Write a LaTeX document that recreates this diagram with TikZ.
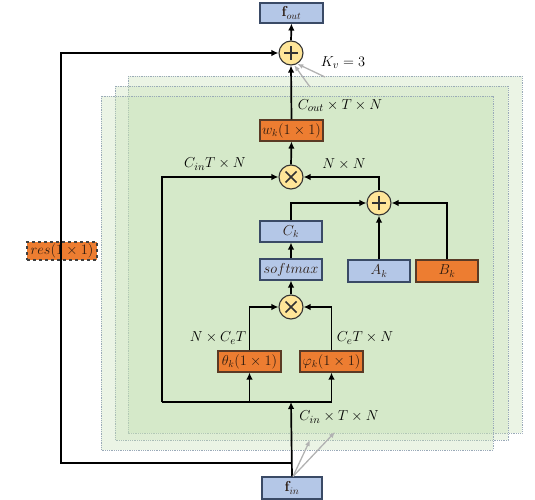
\documentclass[tikz,border=0pt]{standalone}
\usetikzlibrary{arrows.meta,calc}
\definecolor{orangefill}{HTML}{ED7D31}
\definecolor{orangeedge}{HTML}{5A3A25}
\definecolor{bluefill}{HTML}{B4C7E7}
\definecolor{blueedge}{HTML}{3A4A66}
\definecolor{yellowfill}{HTML}{FFE699}
\definecolor{greenfill}{HTML}{C5E0B4}
\definecolor{dotedge}{HTML}{9AAAB8}
\definecolor{boxtext}{HTML}{2A1A10}
\tikzset{
  box/.style={draw, line width=1.1pt, inner sep=0pt, minimum width=62pt, minimum height=21pt, font=\fontsize{14}{16}\selectfont, text=boxtext},
  obox/.style={box, fill=orangefill, draw=orangeedge},
  bbox/.style={box, fill=bluefill, draw=blueedge},
  opcirc/.style={circle, draw=black!80, line width=1.1pt, fill=yellowfill, minimum size=24pt, inner sep=0pt},
  plusop/.style={opcirc, path picture={
    \draw[line width=1.6pt] ([xshift=-7pt]path picture bounding box.center) -- ([xshift=7pt]path picture bounding box.center);
    \draw[line width=1.6pt] ([yshift=-7pt]path picture bounding box.center) -- ([yshift=7pt]path picture bounding box.center);}},
  timesop/.style={opcirc, path picture={
    \draw[line width=1.6pt] ([shift={(-5.5pt,-5.5pt)}]path picture bounding box.center) -- ([shift={(5.5pt,5.5pt)}]path picture bounding box.center);
    \draw[line width=1.6pt] ([shift={(-5.5pt,5.5pt)}]path picture bounding box.center) -- ([shift={(5.5pt,-5.5pt)}]path picture bounding box.center);}},
  conn/.style={line width=1.7pt, draw=black},
  arr/.style={conn, -{Latex[length=7pt,width=6.5pt]}},
  lbl/.style={font=\fontsize{15.5}{18}\selectfont, inner sep=1pt},
  layer/.style={fill=greenfill, fill opacity=0.35, draw=dotedge, densely dotted, line width=0.8pt},
  grayarr/.style={draw=black!30, line width=1.3pt, -{Latex[length=6pt,width=5pt]}},
}
\begin{document}
\begin{tikzpicture}[x=1pt,y=-1pt]
\useasboundingbox (0,0) rectangle (535,500);
% stacked layers
\path[layer] (128,76) rectangle (522,433);
\path[layer] (115,86) rectangle (508,440);
\path[layer] (101,96) rectangle (493,450);

% nodes
\node[bbox, minimum width=63pt, minimum height=20pt] (fout) at (291.5,13) {$\mathbf{f}_{out}$};
\node[plusop] (plus1) at (291,53) {};
\node[lbl] (kv) at (343,63) {$K_v = 3$};
\node[obox, minimum width=63pt] (wk) at (291.5,130.5) {$w_k(1\times1)$};
\node[lbl] (coutl) at (340,106) {$C_{out}\times T\times N$};
\node[timesop] (mul1) at (291,177) {};
\node[lbl] (cintl) at (215,164) {$C_{in}T\times N$};
\node[lbl] (nnl) at (344,164) {$N\times N$};
\node[plusop] (plus2) at (379,203) {};
\node[bbox] (ck) at (291,231.5) {$C_k$};
\node[bbox] (sm) at (291,269.5) {$softmax$};
\node[bbox, minimum height=22pt] (ak) at (379,271) {$A_k$};
\node[obox, minimum height=22pt] (bk) at (447,271) {$B_k$};
\node[timesop] (mul2) at (291,307) {};
\node[obox, minimum width=63pt] (theta) at (249.5,361.5) {$\theta_k(1\times1)$};
\node[obox, minimum width=63pt] (phi) at (331.5,361.5) {$\varphi_k(1\times1)$};
\node[lbl] (ncl) at (218,338) {$N\times C_eT$};
\node[lbl] (cnl) at (365,338) {$C_eT\times N$};
\node[lbl] (cinl) at (339,417) {$C_{in}\times T\times N$};
\node[bbox, minimum width=60pt, minimum height=22pt] (fin) at (292,488) {$\mathbf{f}_{in}$};
\node[obox, dashed, draw=black!75, minimum width=70pt, minimum height=18pt] (res) at (62,251) {$res(1\times1)$};

% coordinates
\coordinate (j) at (291,402);
\coordinate (jl) at (162,402);
\coordinate (jt) at (249.5,402);
\coordinate (jr) at (331.5,402);
\coordinate (rb) at (291,463);
\coordinate (rbl) at (61,463);
\coordinate (rtl) at (61,53);
\coordinate (g1) at (325,77);
\coordinate (g2) at (310,87);
\coordinate (g3) at (310,440);
\coordinate (g4) at (335,432);

% connectors
\draw[arr] (fin.north) -- (j);
\draw[conn] (jl) -- (jr);
\draw[arr] (jl) |- (mul1.west);
\draw[arr] (jt) -- (theta.south);
\draw[arr] (jr) -- (phi.south);
\draw[arr] (theta.north) |- (mul2.west);
\draw[arr] (phi.north) |- (mul2.east);
\draw[arr] (mul2.north) -- (sm.south);
\draw[arr] (sm.north) -- (ck.south);
\draw[arr] (ck.north) |- (plus2.west);
\draw[arr] (ak.north) -- (plus2.south);
\draw[arr] (bk.north) |- (plus2.east);
\draw[arr] (plus2.north) |- (mul1.east);
\draw[arr] (mul1.north) -- (wk.south);
\draw[arr] (wk.north) -- (plus1.south);
\draw[arr] (plus1.north) -- (fout.south);
\draw[arr] (rb) -- (rbl) -- (rtl) -- (plus1.west);

% gray stacking arrows
\draw[grayarr] (g1) -- (plus1.-60);
\draw[grayarr] (g2) -- (plus1.-75);
\draw[grayarr] ([xshift=1pt]fin.north) -- (g3);
\draw[grayarr] ([xshift=1pt]fin.north) -- (g4);
\end{tikzpicture}
\end{document}
